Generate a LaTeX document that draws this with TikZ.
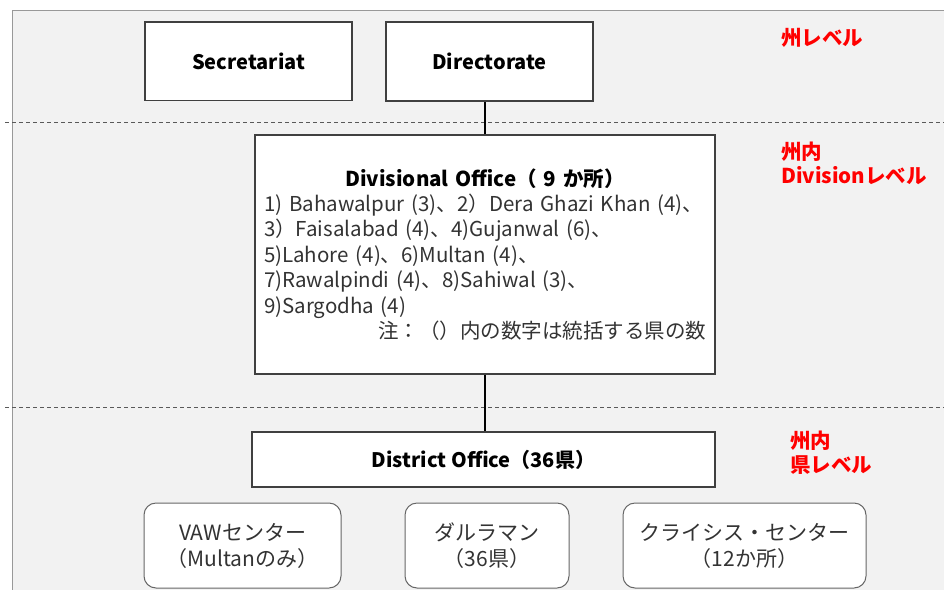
\documentclass[tikz,border=0pt]{standalone}
\usepackage{fontspec}
\setmainfont{Noto Sans CJK JP}
\begin{document}
\begin{tikzpicture}[x=1pt,y=-1pt,
  sqbox/.style={draw=black!75, line width=1.2pt, fill=white, rectangle, inner sep=0pt},
  rbox/.style={draw=black!60, line width=1pt, fill=white, rounded corners=12pt, inner sep=0pt, align=center, text=black!80, font=\fontsize{21}{26}\selectfont},
  lvl/.style={text=red, anchor=west, align=left, inner sep=0pt, font=\fontsize{20.5}{24}\selectfont\bfseries},
  conn/.style={draw=black, line width=1.5pt},
  lvlline/.style={draw=black!65, line width=1pt, dash pattern=on 4pt off 3pt}]
\useasboundingbox (0,0) rectangle (944,589);
\fill[white] (0,0) rectangle (944,589);
\filldraw[fill=black!5, draw=black!40, line width=1.2pt] (12.5,10.5) rectangle (960,610);
% level separators
\coordinate (l1a) at (5,122.5);
\coordinate (l1b) at (944,122.5);
\coordinate (l2a) at (5,407);
\coordinate (l2b) at (944,407);
\draw[lvlline] (l1a) -- (l1b);
\draw[lvlline] (l2a) -- (l2b);
% boxes
\node[sqbox, minimum width=207pt, minimum height=78.5pt, font=\fontsize{20}{24}\selectfont\bfseries] (sec) at (248.5,61.25) {Secretariat};
\node[sqbox, minimum width=207pt, minimum height=79pt, font=\fontsize{20}{24}\selectfont\bfseries] (dir) at (489.5,61.5) {Directorate};
\node[sqbox, minimum width=460pt, minimum height=239pt, text width=442pt, align=left, text=black!80, font=\fontsize{20.5}{25.4}\selectfont] (div) at (485,254.5)
  {{\centering\bfseries\color{black}Divisional Office（ 9 か所）\par}
   1) Bahawalpur (3)、2）Dera Ghazi Khan (4)、\par
   3）Faisalabad (4)、4)Gujanwal (6)、\par
   5)Lahore (4)、6)Multan (4)、\par
   7)Rawalpindi (4)、8)Sahiwal (3)、\par
   9)Sargodha (4)\par
   {\raggedleft 注：（）内の数字は統括する県の数\par}};
\node[sqbox, minimum width=463pt, minimum height=55pt, font=\fontsize{20}{24}\selectfont\bfseries] (dist) at (483.5,459.5) {District Office（36県）};
\node[rbox, minimum width=197pt, minimum height=85pt] (vaw) at (242.5,545.5) {VAWセンター\\（Multanのみ）};
\node[rbox, minimum width=164pt, minimum height=85pt] (dar) at (487,545.5) {ダルラマン\\（36県）};
\node[rbox, minimum width=243pt, minimum height=85pt] (cri) at (744.5,545.5) {クライシス・センター\\（12か所）};
% connectors
\draw[conn] (div.north) -- (div.north |- dir.south);
\draw[conn] (div.south) -- (div.south |- dist.north);
% level labels
\node[lvl] (lv1) at (781,38) {州レベル};
\node[lvl] (lv2) at (781,163.5) {州内\\Divisionレベル};
\node[lvl] (lv3) at (790,452.5) {州内\\県レベル};
\end{tikzpicture}
\end{document}
